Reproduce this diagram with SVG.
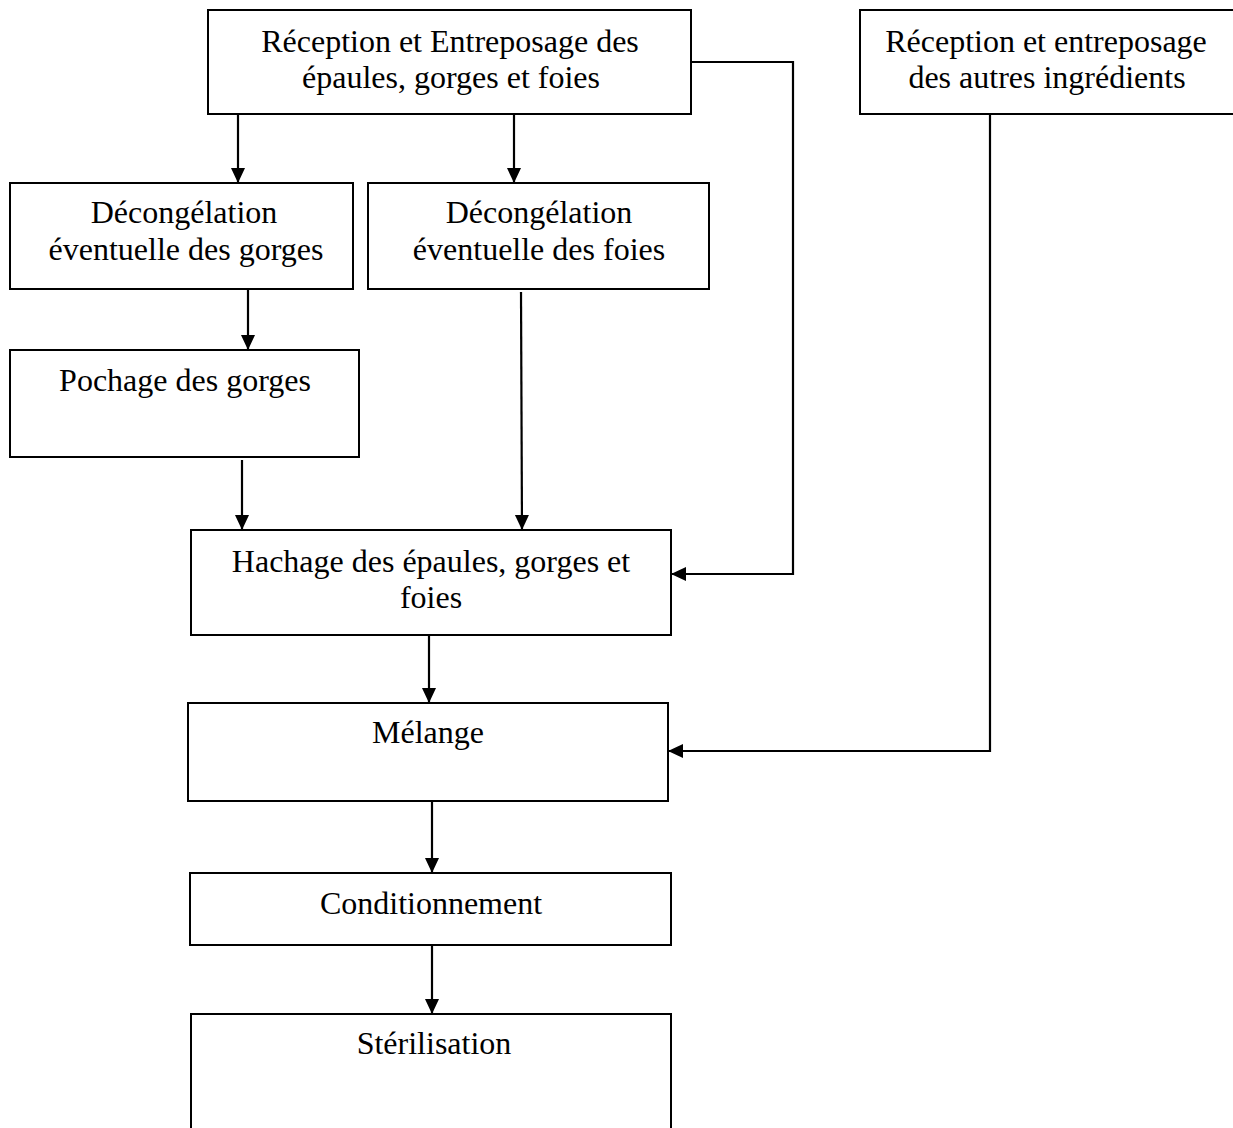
<svg xmlns="http://www.w3.org/2000/svg" width="1233" height="1128" viewBox="0 0 1233 1128">
<style>
.box{fill:#fff;stroke:#000;stroke-width:2}
.t{font-family:"Liberation Serif","Times New Roman",serif;font-size:32px;fill:#000;text-anchor:middle}
.c{fill:none;stroke:#000;stroke-width:2.2}
</style>
<defs>
<marker id="ah" markerUnits="userSpaceOnUse" markerWidth="18" markerHeight="16" refX="15" refY="7" orient="auto">
<path d="M0,0 L15,7 L0,14 z" fill="#000"/>
</marker>
</defs>
<rect width="1233" height="1128" fill="#fff"/>
<g id="connectors">
<line class="c" x1="238" y1="114" x2="238" y2="183" marker-end="url(#ah)"/>
<line class="c" x1="514" y1="114" x2="514" y2="183" marker-end="url(#ah)"/>
<line class="c" x1="248" y1="289" x2="248" y2="350" marker-end="url(#ah)"/>
<line class="c" x1="242" y1="460" x2="242" y2="530" marker-end="url(#ah)"/>
<line class="c" x1="521" y1="292" x2="522" y2="530" marker-end="url(#ah)"/>
<polyline class="c" points="691,62 793,62 793,574 671,574" marker-end="url(#ah)"/>
<line class="c" x1="429" y1="635" x2="429" y2="703" marker-end="url(#ah)"/>
<polyline class="c" points="990,114 990,751 668,751" marker-end="url(#ah)"/>
<line class="c" x1="432" y1="801" x2="432" y2="873" marker-end="url(#ah)"/>
<line class="c" x1="432" y1="945" x2="432" y2="1014" marker-end="url(#ah)"/>
</g>
<g id="reception-epaules">
<rect class="box" x="208" y="10" width="483" height="104"/>
<text class="t" x="450" y="52">Réception et Entreposage des</text>
<text class="t" x="451" y="88">épaules, gorges et foies</text>
</g>
<g id="reception-autres">
<rect class="box" x="860" y="10" width="380" height="104"/>
<text class="t" x="1046" y="52">Réception et entreposage</text>
<text class="t" x="1047" y="88">des autres ingrédients</text>
</g>
<g id="decongelation-gorges">
<rect class="box" x="10" y="183" width="343" height="106"/>
<text class="t" x="184" y="223">Décongélation</text>
<text class="t" x="186" y="260">éventuelle des gorges</text>
</g>
<g id="decongelation-foies">
<rect class="box" x="368" y="183" width="341" height="106"/>
<text class="t" x="539" y="223">Décongélation</text>
<text class="t" x="539" y="260">éventuelle des foies</text>
</g>
<g id="pochage">
<rect class="box" x="10" y="350" width="349" height="107"/>
<text class="t" x="185" y="391">Pochage des gorges</text>
</g>
<g id="hachage">
<rect class="box" x="191" y="530" width="480" height="105"/>
<text class="t" x="431" y="572">Hachage des épaules, gorges et</text>
<text class="t" x="431" y="608">foies</text>
</g>
<g id="melange">
<rect class="box" x="188" y="703" width="480" height="98"/>
<text class="t" x="428" y="743">Mélange</text>
</g>
<g id="conditionnement">
<rect class="box" x="190" y="873" width="481" height="72"/>
<text class="t" x="431" y="914">Conditionnement</text>
</g>
<g id="sterilisation">
<rect class="box" x="191" y="1014" width="480" height="130"/>
<text class="t" x="434" y="1054">Stérilisation</text>
</g>
</svg>
